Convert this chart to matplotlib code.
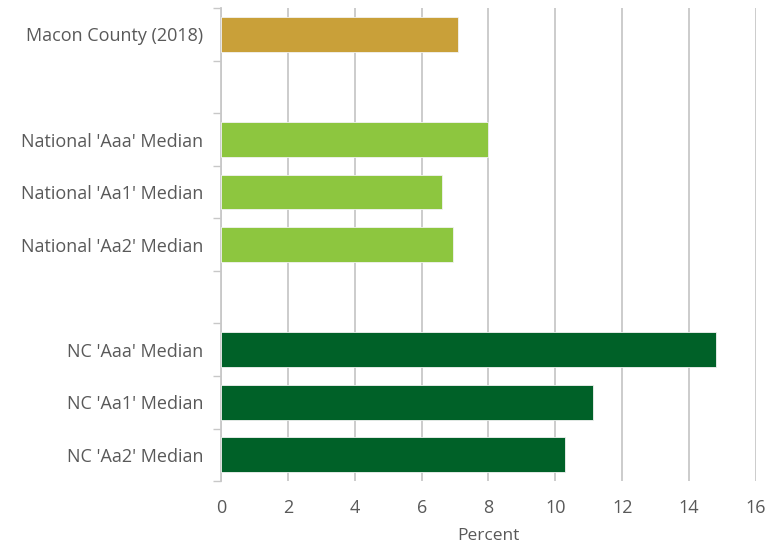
import numpy as np
import matplotlib.pyplot as plt

# Debt ratio comparison, blank slots separate the three groups
labels = ["Macon County (2018)", "",
          "National 'Aaa' Median", "National 'Aa1' Median", "National 'Aa2' Median", "",
          "NC 'Aaa' Median", "NC 'Aa1' Median", "NC 'Aa2' Median"]
values = [7.1, np.nan, 8.0, 6.6, 6.93, np.nan, 14.82, 11.12, 10.3]
colors = ["#C9A039", "white", "#8DC63F", "#8DC63F", "#8DC63F", "white",
          "#006128", "#006128", "#006128"]
xticks = [0, 2, 4, 6, 8, 10, 12, 14, 16]

plt.rcParams['font.family'] = ['Open Sans', 'DejaVu Sans']
text_col = '#595959'
grid_col = '#C8C8C8'

fig, ax = plt.subplots(figsize=(7.76, 5.43), dpi=100)
fig.subplots_adjust(left=0.285, right=0.974, top=0.985, bottom=0.114)

y = np.arange(len(labels))
ax.barh(y, values, height=0.66, color=colors, edgecolor='#F2F2F2', linewidth=0.6, zorder=3)

ax.set_ylim(len(labels) - 0.5, -0.5)
ax.set_xlim(0, 16)

# category boundaries get the tick marks, labels sit at the centres
ax.set_yticks(np.arange(-0.5, len(labels)), minor=False)
ax.set_yticklabels([])
ax.set_yticks(y, minor=True)
ax.set_yticklabels(labels, minor=True, fontsize=13, color=text_col)
ax.tick_params(axis='y', which='major', length=6, width=1, color=grid_col, direction='out')
ax.tick_params(axis='y', which='minor', length=0, pad=13)

ax.set_xticks(xticks)
ax.set_xticklabels([str(t) for t in xticks], fontsize=13, color=text_col)
ax.tick_params(axis='x', length=0, pad=13)
ax.grid(axis='x', color=grid_col, linewidth=1.3, zorder=0)

for s in ['top', 'right', 'bottom']:
    ax.spines[s].set_visible(False)
ax.spines['left'].set_color(grid_col)
ax.spines['left'].set_linewidth(1.3)

ax.set_xlabel('Percent', fontsize=12.5, color=text_col, labelpad=8)

fig.savefig('out.png', dpi=100)
